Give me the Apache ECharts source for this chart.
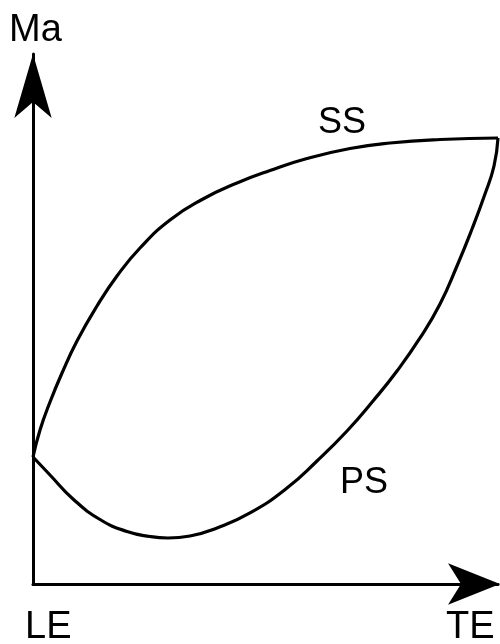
<!DOCTYPE html>
<html>
<head>
<meta charset="utf-8">
<script src="https://cdn.jsdelivr.net/npm/echarts@6/dist/echarts.min.js"></script>
<style>
  html, body { margin: 0; padding: 0; background: #fff; }
  #chart { width: 500px; height: 644px; }
</style>
</head>
<body>
<div id="chart"></div>
<script>
// Chord position from leading edge (0) to trailing edge (1)
const ssX = [0, 0.0151, 0.0366, 0.0624, 0.0946, 0.1376, 0.1806, 0.2301, 0.2946, 0.3656, 0.4387, 0.5097, 0.5892, 0.6817, 0.7677, 0.8753, 1.0];
// Suction side Mach number (normalised)
const ssMa = [0.2396, 0.2906, 0.3434, 0.3981, 0.4585, 0.5245, 0.5811, 0.6340, 0.6868, 0.7264, 0.7566, 0.7802, 0.8028, 0.8217, 0.8321, 0.8387, 0.8415];

const psX = [0, 0.0366, 0.0860, 0.1441, 0.2022, 0.2516, 0.2903, 0.3376, 0.3957, 0.4667, 0.5462, 0.6108, 0.6753, 0.7312, 0.7828, 0.8323, 0.8753, 0.9118, 0.9441, 0.9720, 0.9914, 1.0];
// Pressure side Mach number (normalised)
const psMa = [0.2396, 0.2057, 0.1604, 0.1217, 0.0991, 0.0896, 0.0868, 0.0906, 0.1057, 0.1340, 0.1811, 0.2321, 0.2887, 0.3453, 0.4019, 0.4642, 0.5283, 0.6000, 0.6698, 0.7358, 0.7887, 0.8415];

const yName = 'Ma';
const xStartLabel = 'LE';
const xEndLabel = 'TE';
const ssName = 'SS';
const psName = 'PS';

const zip = (xs, ys) => xs.map((x, i) => [x, ys[i]]);

const chart = echarts.init(document.getElementById('chart'), null, { renderer: 'canvas' });

const ink = '#000';
const textFont = 'Liberation Sans, Arial, sans-serif';

chart.setOption({
  animation: false,
  backgroundColor: '#fff',
  grid: { left: 33, right: 2, top: 54, bottom: 60, containLabel: false },
  xAxis: {
    type: 'value', min: 0, max: 1,
    splitLine: { show: false },
    axisTick: { show: false },
    axisLabel: { show: false },
    axisLine: {
      show: true, onZero: false,
      symbol: ['none', 'arrow'],
      symbolSize: [31, 52],
      symbolOffset: [0, 2],
      lineStyle: { color: ink, width: 3 }
    }
  },
  yAxis: {
    type: 'value', min: 0, max: 1,
    splitLine: { show: false },
    axisTick: { show: false },
    axisLabel: { show: false },
    axisLine: {
      show: true, onZero: false,
      symbol: ['none', 'arrow'],
      symbolSize: [28, 64],
      symbolOffset: [0, 0],
      lineStyle: { color: ink, width: 3 }
    }
  },
  series: [
    {
      name: ssName, type: 'line', data: zip(ssX, ssMa),
      smooth: 0.5, showSymbol: false, clip: false,
      lineStyle: { color: ink, width: 3.2 }
    },
    {
      name: psName, type: 'line', data: zip(psX, psMa),
      smooth: 0.5, showSymbol: false, clip: false,
      lineStyle: { color: ink, width: 3.2 }
    }
  ],
  graphic: [
    { type: 'text', left: 9, top: 12, style: { text: yName, font: '38px ' + textFont, fill: ink } },
    { type: 'text', left: 25, top: 609, style: { text: xStartLabel, font: '38px ' + textFont, fill: ink } },
    { type: 'text', left: 446, top: 609, style: { text: xEndLabel, font: '38px ' + textFont, fill: ink } },
    { type: 'text', left: 318, top: 105, style: { text: ssName, font: '36px ' + textFont, fill: ink } },
    { type: 'text', left: 340, top: 465, style: { text: psName, font: '36px ' + textFont, fill: ink } }
  ]
});
</script>
</body>
</html>
